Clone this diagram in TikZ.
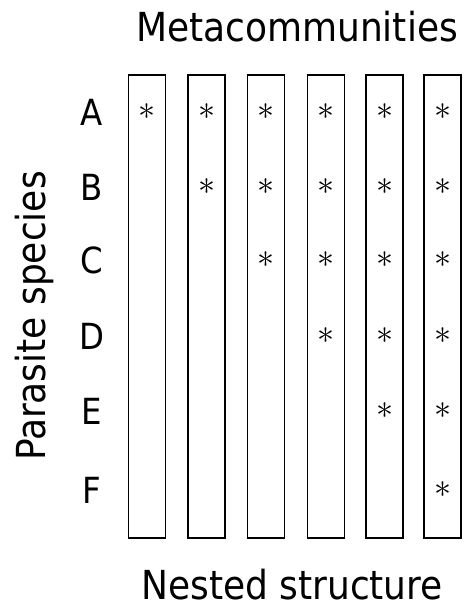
\documentclass[tikz,border=0pt]{standalone}
\usepackage{fontspec}
\setmainfont{DejaVu Sans Condensed}
\usepackage{tikz}
\tikzset{
  colbox/.style={
    draw,
    line width=1.8pt,
    minimum width=37pt,
    minimum height=463pt,
    inner sep=0pt
  },
  titlelbl/.style={
    font=\fontsize{40}{44}\selectfont,
    anchor=base,
    inner sep=0pt
  },
  rowlbl/.style={
    font=\fontsize{36}{40}\selectfont,
    inner sep=0pt
  },
  hit/.style={
    inner sep=0pt
  }
}
\newcommand{\hitmark}{\scalebox{3.4}{$\ast$}}
\begin{document}
\begin{tikzpicture}[x=1pt, y=-1pt]
\useasboundingbox (0,0) rectangle (466,610);
% titles
\node[titlelbl] (top) at (297,42) {Metacommunities};
\node[titlelbl] (bottom) at (292,599) {Nested structure};
\node[titlelbl, rotate=90] (side) at (45,316) {Parasite species};
% one box per metacommunity
\node[colbox] (m1) at (147,306.5) {};
\node[colbox] (m2) at (206.5,306.5) {};
\node[colbox] (m3) at (266,306.5) {};
\node[colbox] (m4) at (326,306.5) {};
\node[colbox] (m5) at (384.5,306.5) {};
\node[colbox] (m6) at (442.5,306.5) {};
% species labels
\node[rowlbl] (spA) at (92,112) {A};
\node[rowlbl] (spB) at (92,187) {B};
\node[rowlbl] (spC) at (92,260) {C};
\node[rowlbl] (spD) at (92,336) {D};
\node[rowlbl] (spE) at (92,411) {E};
\node[rowlbl] (spF) at (92,490) {F};
% presences
\node[hit] (a1) at (m1 |- spA) {\hitmark};
\node[hit] (a2) at (m2 |- spA) {\hitmark};
\node[hit] (a3) at (m3 |- spA) {\hitmark};
\node[hit] (a4) at (m4 |- spA) {\hitmark};
\node[hit] (a5) at (m5 |- spA) {\hitmark};
\node[hit] (a6) at (m6 |- spA) {\hitmark};
\node[hit] (b2) at (m2 |- spB) {\hitmark};
\node[hit] (b3) at (m3 |- spB) {\hitmark};
\node[hit] (b4) at (m4 |- spB) {\hitmark};
\node[hit] (b5) at (m5 |- spB) {\hitmark};
\node[hit] (b6) at (m6 |- spB) {\hitmark};
\node[hit] (c3) at (m3 |- spC) {\hitmark};
\node[hit] (c4) at (m4 |- spC) {\hitmark};
\node[hit] (c5) at (m5 |- spC) {\hitmark};
\node[hit] (c6) at (m6 |- spC) {\hitmark};
\node[hit] (d4) at (m4 |- spD) {\hitmark};
\node[hit] (d5) at (m5 |- spD) {\hitmark};
\node[hit] (d6) at (m6 |- spD) {\hitmark};
\node[hit] (e5) at (m5 |- spE) {\hitmark};
\node[hit] (e6) at (m6 |- spE) {\hitmark};
\node[hit] (f6) at (m6 |- spF) {\hitmark};
\end{tikzpicture}
\end{document}
